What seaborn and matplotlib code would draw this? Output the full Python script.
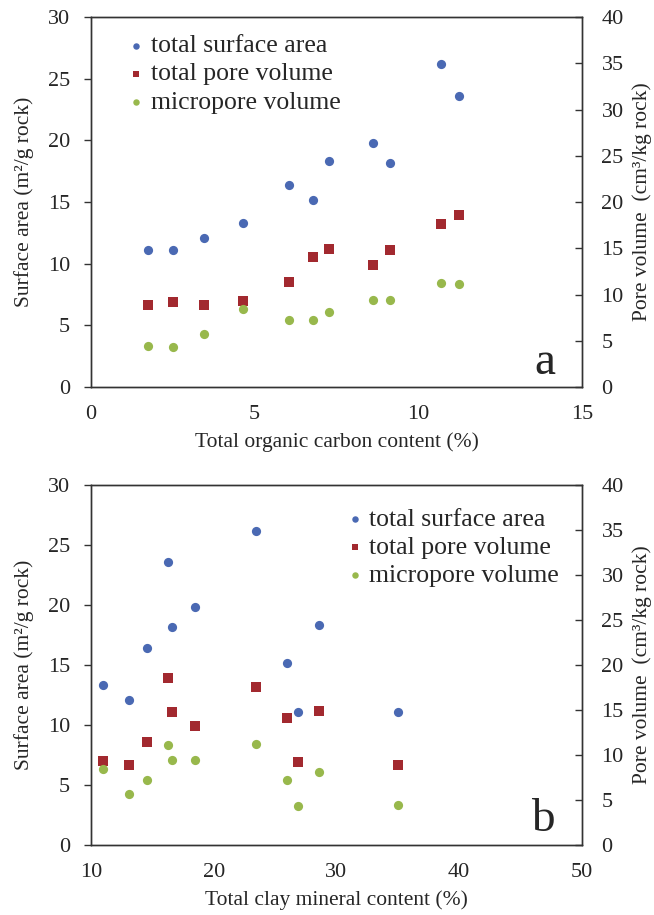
import matplotlib
matplotlib.use("Agg")
import matplotlib.pyplot as plt
import seaborn as sns
import pandas as pd

# ---- data ----
toc = [1.74, 2.50, 3.44, 4.65, 6.05, 6.77, 7.28, 8.61, 9.14, 10.68, 11.25]
clay = [35.0, 26.9, 13.07, 11.0, 14.56, 26.0, 28.6, 18.5, 16.63, 23.42, 16.28]
surface_area = [11.1, 11.1, 12.1, 13.3, 16.4, 15.2, 18.3, 19.8, 18.2, 26.2, 23.6]
total_pore_volume = [8.9, 9.2, 8.9, 9.3, 11.4, 14.1, 14.9, 13.2, 14.8, 17.6, 18.6]
micropore_volume = [4.4, 4.35, 5.7, 8.4, 7.2, 7.2, 8.1, 9.4, 9.45, 11.2, 11.15]

series_names = ["total surface area", "total pore volume", "micropore volume"]
x_labels = ["Total organic carbon content (%)", "Total clay mineral content (%)"]
panel_letters = ["a", "b"]
x_limits = [(0, 15), (10, 50)]
x_ticks = [[0, 5, 10, 15], [10, 20, 30, 40, 50]]
left_ticks = [0, 5, 10, 15, 20, 25, 30]
right_ticks = [0, 5, 10, 15, 20, 25, 30, 35, 40]

df = pd.DataFrame({
    "toc": toc, "clay": clay, "sa": surface_area,
    "tpv": total_pore_volume, "mpv": micropore_volume,
})

sns.set_style("white")
plt.rcParams["font.family"] = ["Liberation Serif", "DejaVu Serif"]

BLUE = "#4a69b3"
RED = "#a2292f"
GREEN = "#98b84c"
SPINE = "#333333"

fig = plt.figure(figsize=(6.54, 9.15), dpi=100)
axes_rects = [
    [91 / 654, 1 - 387 / 915, 491 / 654, 370 / 915],
    [91 / 654, 1 - 845 / 915, 491 / 654, 360 / 915],
]
xcols = ["toc", "clay"]
legend_anchor = [(0.035, 0.995), (0.48, 0.98)]
letter_pos = [(0.925, 0.065), (0.92, 0.07)]

for i in range(2):
    ax = fig.add_axes(axes_rects[i])
    ax2 = ax.twinx()
    xc = xcols[i]
    sns.scatterplot(data=df, x=xc, y="sa", ax=ax, color=BLUE, marker="o",
                    s=44, linewidth=0, label=series_names[0], legend=False)
    sns.scatterplot(data=df, x=xc, y="tpv", ax=ax2, color=RED, marker="s",
                    s=44, linewidth=0, label=series_names[1], legend=False)
    sns.scatterplot(data=df, x=xc, y="mpv", ax=ax2, color=GREEN, marker="o",
                    s=44, linewidth=0, label=series_names[2], legend=False)

    ax.set_xlim(*x_limits[i])
    ax.set_xticks(x_ticks[i])
    ax.set_ylim(0, 30)
    ax.set_yticks(left_ticks)
    ax2.set_ylim(0, 40)
    ax2.set_yticks(right_ticks)

    ax.set_xlabel(x_labels[i], fontsize=15.5, labelpad=6)
    ax.set_ylabel("Surface area (m²/g rock)", fontsize=15.5, labelpad=10)
    ax2.set_ylabel("Pore volume  (cm³/kg rock)", fontsize=15.5, labelpad=6)

    ax.tick_params(axis="x", direction="in", length=5, width=1, color=SPINE,
                   labelsize=16, pad=13)
    ax.tick_params(axis="y", direction="out", length=5, width=1, color=SPINE,
                   labelsize=16, pad=10, left=True)
    ax2.tick_params(axis="y", direction="in", length=5, width=1, color=SPINE,
                    labelsize=16, pad=14, right=True)

    for a in (ax, ax2):
        for sp in a.spines.values():
            sp.set_visible(True)
            sp.set_color(SPINE)
            sp.set_linewidth(1.0)

    h1, l1 = ax.get_legend_handles_labels()
    h2, l2 = ax2.get_legend_handles_labels()
    ax2.legend(h1 + h2, l1 + l2, loc="upper left",
               bbox_to_anchor=legend_anchor[i], frameon=False,
               fontsize=18.5, markerscale=0.7, handletextpad=0.05,
               handlelength=1.0, labelspacing=0.2, borderaxespad=0.2)

    ax.text(letter_pos[i][0], letter_pos[i][1], panel_letters[i],
            transform=ax.transAxes, fontsize=34, ha="center", va="center")

fig.savefig("out.png", dpi=100)
